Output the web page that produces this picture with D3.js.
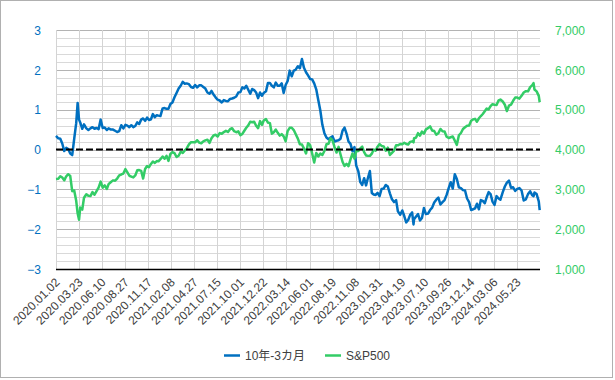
<!DOCTYPE html>
<html><head><meta charset="utf-8">
<script src="https://cdn.jsdelivr.net/npm/d3@7"></script>
<style>
body{margin:0;background:#fff;}
text{font-family:"Liberation Sans",Arial,"Noto Sans CJK JP",sans-serif;}
</style>
</head><body>
<svg id="chart" width="615" height="380"></svg>
<script>
// ---- data (weekly readings) ----
const dates2020 = ["2020-01-02","2020-01-10","2020-01-17","2020-01-24","2020-01-31","2020-02-07","2020-02-14","2020-02-21","2020-02-28","2020-03-06","2020-03-13","2020-03-18","2020-03-23","2020-03-27","2020-04-03","2020-04-09","2020-04-17","2020-04-24","2020-05-01","2020-05-08","2020-05-15","2020-05-22","2020-05-29","2020-06-05","2020-06-12","2020-06-19","2020-06-26","2020-07-02","2020-07-10","2020-07-17","2020-07-24","2020-07-31","2020-08-07","2020-08-14","2020-08-21","2020-08-28","2020-09-04","2020-09-11","2020-09-18","2020-09-25","2020-10-02","2020-10-09","2020-10-16","2020-10-23","2020-10-30","2020-11-06","2020-11-13","2020-11-20","2020-11-27","2020-12-04","2020-12-11","2020-12-18","2020-12-24","2020-12-31"];
const spread2020 = [0.34,0.28,0.27,0.15,-0.04, 0.04,0.01,-0.10,-0.14, 0.27,0.66,1.17,0.75,0.68, 0.52,0.63,0.53,0.49, 0.53,0.56,0.52,0.54,0.51, 0.75,0.54,0.55,0.49, 0.53,0.50,0.50,0.47,0.44, 0.46,0.61,0.53,0.62, 0.60,0.56,0.61,0.56, 0.59,0.68,0.64,0.75,0.78, 0.72,0.80,0.74,0.76, 0.89,0.81,0.86,0.85,0.84];
const sp2020 = [3258,3265,3330,3295,3226, 3328,3380,3338,2954, 2972,2711,2398,2237,2541, 2489,2790,2875,2837, 2831,2930,2864,2955,3044, 3194,3041,3098,3009, 3130,3185,3225,3216,3271, 3351,3373,3397,3508, 3427,3341,3319,3298, 3348,3477,3484,3465,3270, 3510,3585,3558,3638, 3699,3663,3709,3703,3756];

const dates2021 = ["2021-01-08","2021-01-15","2021-01-22","2021-01-29","2021-02-05","2021-02-12","2021-02-19","2021-02-26","2021-03-05","2021-03-12","2021-03-19","2021-03-26","2021-04-01","2021-04-09","2021-04-16","2021-04-23","2021-04-30","2021-05-07","2021-05-14","2021-05-21","2021-05-28","2021-06-04","2021-06-11","2021-06-18","2021-06-25","2021-07-02","2021-07-09","2021-07-16","2021-07-23","2021-07-30","2021-08-06","2021-08-13","2021-08-20","2021-08-27","2021-09-03","2021-09-10","2021-09-17","2021-09-24","2021-10-01","2021-10-08","2021-10-15","2021-10-22","2021-10-29","2021-11-05","2021-11-12","2021-11-19","2021-11-26","2021-12-03","2021-12-10","2021-12-17","2021-12-23","2021-12-31"];
const spread2021 = [1.03,1.04,1.02,1.02, 1.14,1.18,1.31,1.42, 1.53,1.60,1.70,1.65, 1.66,1.64,1.57,1.55,1.62, 1.56,1.61,1.61,1.57, 1.53,1.43,1.40,1.47, 1.38,1.31,1.25,1.23,1.18, 1.24,1.22,1.21,1.27, 1.28,1.30,1.33,1.43, 1.44,1.56,1.53,1.60,1.50, 1.40,1.52,1.49,1.43, 1.29,1.43,1.35,1.42,1.46];
const sp2021 = [3825,3768,3841,3714, 3887,3934,3907,3811, 3842,3943,3913,3975, 4020,4129,4185,4180,4181, 4233,4174,4156,4204, 4230,4247,4166,4281, 4352,4370,4327,4412,4395, 4437,4468,4442,4509, 4535,4459,4433,4455, 4357,4391,4471,4545,4605, 4697,4683,4698,4595, 4538,4712,4620,4726,4766];

const dates2022 = ["2022-01-07","2022-01-14","2022-01-21","2022-01-28","2022-02-04","2022-02-11","2022-02-18","2022-02-25","2022-03-04","2022-03-11","2022-03-18","2022-03-25","2022-04-01","2022-04-08","2022-04-14","2022-04-22","2022-04-29","2022-05-06","2022-05-13","2022-05-20","2022-05-27","2022-06-03","2022-06-10","2022-06-17","2022-06-24","2022-07-01","2022-07-08","2022-07-15","2022-07-22","2022-07-29","2022-08-05","2022-08-12","2022-08-19","2022-08-26","2022-09-02","2022-09-09","2022-09-16","2022-09-23","2022-09-30","2022-10-07","2022-10-14","2022-10-21","2022-10-28","2022-11-04","2022-11-10","2022-11-18","2022-11-25","2022-12-02","2022-12-09","2022-12-16","2022-12-23","2022-12-30"];
const spread2022 = [1.67,1.67,1.60,1.56, 1.68,1.60,1.60,1.66, 1.42,1.62,1.72,1.98, 1.84,1.98,2.00,2.09,2.04, 2.27,2.05,1.94,1.86, 1.77,1.76,1.66,1.51, 1.24,0.98,0.62,0.41,0.30, 0.26,0.30,0.33,0.20, 0.22,0.23,0.27,0.47,0.55, 0.40,0.20,0.14,-0.04, 0.06,-0.40,-0.55,-0.82, -0.89,-0.72,-0.90,-0.71,-0.54];
const sp2022 = [4677,4663,4398,4432, 4500,4419,4349,4385, 4329,4204,4463,4543, 4546,4488,4393,4272,4132, 4123,4024,3901,4158, 4109,3901,3675,3912, 3825,3899,3863,3962,4130, 4145,4280,4228,4058, 3924,4067,3873,3693,3586, 3640,3583,3753,3901, 3771,3956,3965,4026, 4072,3934,3852,3845,3840];

const dates2023 = ["2023-01-06","2023-01-13","2023-01-20","2023-01-27","2023-02-03","2023-02-10","2023-02-17","2023-02-24","2023-03-03","2023-03-10","2023-03-17","2023-03-24","2023-03-31","2023-04-06","2023-04-14","2023-04-21","2023-04-28","2023-05-05","2023-05-12","2023-05-19","2023-05-26","2023-05-31","2023-06-02","2023-06-09","2023-06-16","2023-06-23","2023-06-30","2023-07-07","2023-07-14","2023-07-21","2023-07-28","2023-08-04","2023-08-11","2023-08-18","2023-08-25","2023-09-01","2023-09-08","2023-09-15","2023-09-22","2023-09-29","2023-10-06","2023-10-13","2023-10-20","2023-10-27","2023-11-03","2023-11-10","2023-11-17","2023-11-24","2023-12-01","2023-12-08","2023-12-15","2023-12-22","2023-12-29"];
const spread2023 = [-1.09,-1.13,-1.14,-1.09, -1.17,-0.99,-0.98,-0.89, -0.93,-1.10,-1.25,-1.32,-1.27, -1.55,-1.64,-1.53,-1.67, -1.83,-1.77,-1.64,-1.58,-1.88, -1.75,-1.68,-1.62,-1.78,-1.72, -1.47,-1.62,-1.61,-1.52, -1.46,-1.33,-1.26,-1.21, -1.38,-1.32,-1.27,-1.14,-0.97, -0.82,-0.98,-0.62,-0.74, -0.95,-0.97,-1.02,-1.03, -1.23,-1.32,-1.52,-1.50,-1.48];
const sp2023 = [3895,3999,3973,4071, 4136,4090,4079,3970, 4046,3862,3917,3971,4109, 4105,4138,4133,4169, 4136,4124,4192,4205,4180, 4282,4299,4410,4348,4450, 4399,4505,4536,4582, 4478,4464,4370,4406, 4516,4457,4450,4320,4288, 4308,4327,4224,4117, 4358,4415,4514,4559, 4595,4604,4719,4755,4770];

const dates2024 = ["2024-01-05","2024-01-12","2024-01-19","2024-01-26","2024-02-02","2024-02-09","2024-02-16","2024-02-23","2024-03-01","2024-03-08","2024-03-15","2024-03-22","2024-03-28","2024-04-05","2024-04-12","2024-04-19","2024-04-26","2024-05-03","2024-05-10","2024-05-17","2024-05-24","2024-05-31","2024-06-07","2024-06-14","2024-06-21","2024-06-28","2024-07-05","2024-07-12","2024-07-16","2024-07-19","2024-07-26","2024-08-02","2024-08-05"];
const spread2024 = [-1.36,-1.50,-1.27,-1.29, -1.35,-1.20,-1.07,-1.12, -1.31,-1.39,-1.17,-1.23,-1.26, -1.07,-0.93,-0.83,-0.78, -0.96,-0.95,-1.04,-0.99,-0.97, -1.03,-1.28,-1.25,-1.12, -1.05,-1.15,-1.17,-1.08,-1.12, -1.30,-1.52];
const sp2024 = [4697,4784,4840,4891, 4959,5027,5006,5089, 5137,5124,5117,5234,5254, 5204,5123,4967,5100, 5128,5223,5303,5305,5278, 5347,5432,5465,5460, 5567,5615,5667,5505,5459, 5346,5186];

const tickLabels = ["2020.01.02","2020.03.23","2020.06.10","2020.08.27","2020.11.17","2021.02.08","2021.04.27","2021.07.15","2021.10.01","2021.12.22","2022.03.14","2022.06.01","2022.08.19","2022.11.08","2023.01.31","2023.04.19","2023.07.10","2023.09.26","2023.12.14","2024.03.06","2024.05.23"];
const axisEnd = "2024.08.06";
const leftTicks = [-3,-2,-1,0,1,2,3];
const rightTicks = [1000,2000,3000,4000,5000,6000,7000];
const seriesNames = ["10年-3カ月","S&P500"];

// ---- build ----
const dates = [].concat(dates2020,dates2021,dates2022,dates2023,dates2024);
const spread = [].concat(spread2020,spread2021,spread2022,spread2023,spread2024);
const sp500 = [].concat(sp2020,sp2021,sp2022,sp2023,sp2024);
const parse = d3.timeParse("%Y-%m-%d");
const parseLbl = d3.timeParse("%Y.%m.%d");
const rows = dates.map((d,i)=>({date:parse(d), s:spread[i], p:sp500[i]}));

const blue = "#0070C0", green = "#33CC66", txt = "#404040";
const L = 56, R = 540, T = 30, B = 269;
const svg = d3.select("#chart");

svg.append("rect").attr("x",0.5).attr("y",0.5).attr("width",612).attr("height",377)
  .attr("fill","#fff").attr("stroke","#b0b0b0").attr("stroke-width",1);

const domainDates = tickLabels.map(parseLbl).concat([parseLbl(axisEnd)]);
const n = domainDates.length - 1;
const x = d3.scaleTime().domain(domainDates).range(d3.range(n+1).map(k => L + k*(R-L)/n));
const yL = d3.scaleLinear().domain([-3,3]).range([B,T]);
const yR = d3.scaleLinear().domain([1000,7000]).range([B,T]);

// horizontal gridlines
const minor = d3.range(-15,16).map(v=>v/5);
svg.append("g").selectAll("line").data(minor).join("line")
  .attr("x1",L).attr("x2",R)
  .attr("y1",d=>Math.round(yL(d))+0.5).attr("y2",d=>Math.round(yL(d))+0.5)
  .attr("stroke",d=>Number.isInteger(d)?"#b3b3b3":"#d9d9d9").attr("stroke-width",1);
// vertical gridlines
svg.append("g").selectAll("line").data(domainDates.slice(0,n)).join("line")
  .attr("x1",d=>Math.round(x(d))+0.5).attr("x2",d=>Math.round(x(d))+0.5)
  .attr("y1",T).attr("y2",B).attr("stroke","#d4d4d4").attr("stroke-width",1);

// left axis
const gl = svg.append("g").attr("transform",`translate(${L-15},0)`)
  .call(d3.axisLeft(yL).tickValues(leftTicks).tickSize(0).tickPadding(0).tickFormat(d3.format("d")));
gl.select(".domain").remove();
gl.selectAll("text").attr("fill",blue).attr("font-size",12).attr("dy","0.35em");
// right axis
const gr = svg.append("g").attr("transform",`translate(${R+15},0)`)
  .call(d3.axisRight(yR).tickValues(rightTicks).tickSize(0).tickPadding(0).tickFormat(d3.format(",")));
gr.select(".domain").remove();
gr.selectAll("text").attr("fill",green).attr("font-size",12).attr("dy","0.35em");

// x axis labels
const gx = svg.append("g").attr("transform",`translate(0,${B})`)
  .call(d3.axisBottom(x).tickValues(domainDates.slice(0,n)).tickSize(0).tickFormat(d3.timeFormat("%Y.%m.%d")));
gx.select(".domain").remove();
gx.selectAll("text").attr("fill",txt).attr("font-size",12)
  .attr("text-anchor","end").attr("x",0).attr("y",0).attr("dy","0.35em")
  .attr("transform","translate(1,11) rotate(-45)");

// bottom axis line
svg.append("line").attr("x1",L).attr("x2",R).attr("y1",B+0.5).attr("y2",B+0.5)
  .attr("stroke","#000").attr("stroke-width",1.5);

// series
const lineS = d3.line().x(d=>x(d.date)).y(d=>yL(d.s));
const lineP = d3.line().x(d=>x(d.date)).y(d=>yR(d.p));
svg.append("path").datum(rows).attr("d",lineS).attr("fill","none")
  .attr("stroke",blue).attr("stroke-width",2.5).attr("stroke-linejoin","round");
svg.append("path").datum(rows).attr("d",lineP).attr("fill","none")
  .attr("stroke",green).attr("stroke-width",2.5).attr("stroke-linejoin","round");

// zero line
svg.append("line").attr("x1",L).attr("x2",R).attr("y1",yL(0)).attr("y2",yL(0))
  .attr("stroke","#000").attr("stroke-width",2).attr("stroke-dasharray","7,3");

// legend
const legend = [{name:seriesNames[0],color:blue,x:224},{name:seriesNames[1],color:green,x:325}];
const lg = svg.append("g").selectAll("g").data(legend).join("g")
  .attr("transform",d=>`translate(${d.x},355.5)`);
lg.append("line").attr("x1",0).attr("x2",16).attr("stroke",d=>d.color).attr("stroke-width",2.5);
lg.append("text").attr("x",21).attr("dy","0.35em").attr("font-size",12).attr("fill",txt).text(d=>d.name);
</script>
</body></html>
